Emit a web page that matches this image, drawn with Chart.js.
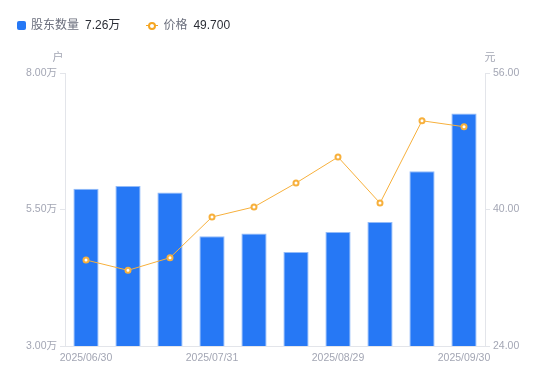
<!DOCTYPE html>
<html>
<head>
<meta charset="utf-8">
<script src="https://cdn.jsdelivr.net/npm/chart.js@4/dist/chart.umd.min.js"></script>
<style>
  body { margin: 0; background: #fff; font-family: "Liberation Sans", "Noto Sans CJK SC", sans-serif; }
  #wrap { position: relative; width: 550px; height: 381px; }
  #legend { position: absolute; left: 17px; top: 17px; font-size: 12px; line-height: 16px; display: flex; align-items: center; }
  .item { display: flex; align-items: center; margin-right: 26px; }
  .sq { width: 9px; height: 9px; background: #2678f5; border-radius: 2px; margin-right: 5px; }
  .ln { position: relative; width: 12px; height: 9px; margin-right: 5px; }
  .ln:before { content: ""; position: absolute; left: 0; right: 0; top: 4px; height: 1px; background: #f5a623; }
  .ln:after { content: ""; position: absolute; left: 2px; top: 1px; width: 4px; height: 4px; border: 2px solid #f5a623; border-radius: 50%; background: #fff; }
  .name { color: #6b6f7d; margin-right: 6px; }
  .val { color: #2b2e36; }
</style>
</head>
<body>
<div id="wrap">
  <canvas id="myChart" width="550" height="381"></canvas>
  <div id="legend"></div>
</div>
<script>
const labels = ['2025/06/30', '2025/07/10', '2025/07/20', '2025/07/31', '2025/08/10', '2025/08/20', '2025/08/29', '2025/09/10', '2025/09/19', '2025/09/30'];
const holders = [5.88, 5.93, 5.81, 5.01, 5.06, 4.72, 5.09, 5.27, 6.20, 7.26];
const prices = [34.08, 32.87, 34.35, 39.12, 40.30, 43.10, 46.15, 40.75, 50.40, 49.70];
const leftTicks = [3.0, 8.0];
const rightTicks = [24.0, 56.0];

const tickColor = '#a3a6b4';
const lineColor = '#e3e5ea';

document.getElementById('legend').innerHTML =
  '<div class="item"><span class="sq"></span><span class="name">股东数量</span><span class="val">' + holders[holders.length - 1].toFixed(2) + '万</span></div>' +
  '<div class="item"><span class="ln"></span><span class="name">价格</span><span class="val">' + prices[prices.length - 1].toFixed(3) + '</span></div>';

const unitTitles = {
  id: 'unitTitles',
  afterDraw(chart) {
    const ctx = chart.ctx;
    const y = chart.scales.y, y1 = chart.scales.y1;
    ctx.save();
    ctx.font = '11px "Liberation Sans", "Noto Sans CJK SC", sans-serif';
    ctx.fillStyle = tickColor;
    ctx.textBaseline = 'middle';
    ctx.textAlign = 'center';
    ctx.fillText('户', y.right - 7, y.top - 15);
    ctx.fillText('元', y1.left + 5, y1.top - 15);
    ctx.restore();
  }
};

const config = {
  data: {
    labels: labels,
    datasets: [{
      type: 'line',
      label: '价格',
      data: prices,
      yAxisID: 'y1',
      borderColor: '#f7b03c',
      borderWidth: 1,
      pointRadius: 2.5,
      pointBorderWidth: 2,
      pointBorderColor: '#f7b03c',
      pointBackgroundColor: '#fff',
      tension: 0,
      order: 0
    }, {
      type: 'bar',
      label: '股东数量',
      data: holders,
      yAxisID: 'y',
      backgroundColor: '#2678f5',
      borderColor: '#93bbf8',
      borderWidth: { top: 1, left: 1, right: 1, bottom: 0 },
      categoryPercentage: 1.0,
      barPercentage: 0.6,
      order: 1
    }]
  },
  options: {
    responsive: false,
    animation: false,
    layout: { padding: { top: 73, left: 0, right: 0, bottom: 0 } },
    plugins: {
      legend: { display: false },
      tooltip: { enabled: false }
    },
    scales: {
      x: {
        offset: true,
        grid: { display: true, drawOnChartArea: false, drawTicks: false },
        border: { display: true, color: lineColor },
        ticks: {
          autoSkip: false,
          maxRotation: 0,
          padding: 6,
          color: tickColor,
          font: { size: 10.5, family: '"Liberation Sans", sans-serif' },
          callback: function (v, i) { return i % 3 === 0 ? labels[i] : ''; }
        },
        afterFit(s) { s.height = 35; }
      },
      y: {
        position: 'left',
        min: leftTicks[0],
        max: leftTicks[1],
        grid: { drawOnChartArea: false, drawTicks: true, tickLength: 5, color: lineColor },
        border: { display: true, color: lineColor },
        ticks: {
          stepSize: 2.5,
          padding: 3,
          color: tickColor,
          font: { size: 10.5, family: '"Liberation Sans", "Noto Sans CJK SC", sans-serif' },
          callback: v => v.toFixed(2) + '万'
        },
        afterFit(s) { s.width = 65; }
      },
      y1: {
        position: 'right',
        min: rightTicks[0],
        max: rightTicks[1],
        grid: { drawOnChartArea: false, drawTicks: true, tickLength: 5, color: lineColor },
        border: { display: true, color: lineColor },
        ticks: {
          stepSize: 16,
          padding: 3,
          color: tickColor,
          font: { size: 10.5, family: '"Liberation Sans", sans-serif' },
          callback: v => v.toFixed(2)
        },
        afterFit(s) { s.width = 65; }
      }
    }
  },
  plugins: [unitTitles]
};

var myChart = new Chart(document.getElementById('myChart'), config);
</script>
</body>
</html>
